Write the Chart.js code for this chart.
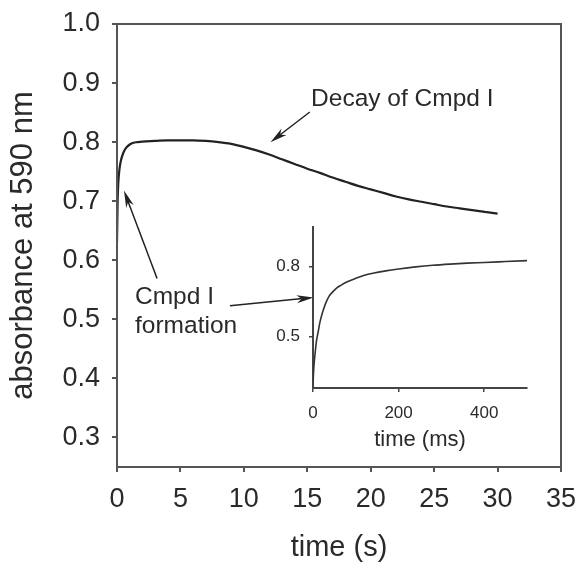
<!DOCTYPE html>
<html>
<head>
<meta charset="utf-8">
<script src="https://cdn.jsdelivr.net/npm/chart.js@4.4.1/dist/chart.umd.min.js"></script>
<style>
  html, body { margin: 0; padding: 0; background: #fff; }
  #wrap { position: relative; width: 576px; height: 570px; }
  #mainChart { position: absolute; left: 0; top: 0; }
  #insetChart { position: absolute; left: 250px; top: 215px; }
</style>
</head>
<body>
<div id="wrap">
  <canvas id="mainChart" width="576" height="570"></canvas>
  <canvas id="insetChart" width="290" height="240"></canvas>
</div>
<script>
// ---- main trace: absorbance at 590 nm vs time (s) ----
const mainTime = [0, 0.05, 0.1, 0.2, 0.3, 0.5, 0.7, 1.0, 1.3, 1.6, 2, 3, 4, 5, 6, 7, 8, 9, 10,
  11, 12, 13, 14, 15, 16, 17, 18, 19, 20, 21, 22, 23, 24, 25, 26, 27, 28, 29, 30];
const mainAbs = [0.63, 0.70, 0.73, 0.755, 0.768, 0.782, 0.79, 0.796, 0.799, 0.800, 0.801, 0.802,
  0.803, 0.803, 0.803, 0.802, 0.800, 0.797, 0.792, 0.786, 0.779, 0.771, 0.763, 0.755, 0.748,
  0.740, 0.733, 0.726, 0.720, 0.714, 0.708, 0.703, 0.699, 0.695, 0.691, 0.688, 0.685, 0.682, 0.679];
const mainXTicks = [0, 5, 10, 15, 20, 25, 30, 35];
const mainYTicks = [0.3, 0.4, 0.5, 0.6, 0.7, 0.8, 0.9, 1.0];

// ---- inset trace: first 500 ms ----
const insetMs = [0, 2, 5, 8, 12, 16, 20, 25, 30, 38, 45, 55, 65, 80, 100, 120, 140, 170, 200,
  240, 280, 320, 360, 400, 450, 500];
const insetAbs = [0.30, 0.37, 0.43, 0.48, 0.52, 0.56, 0.59, 0.62, 0.645, 0.675, 0.69, 0.708,
  0.72, 0.735, 0.75, 0.763, 0.772, 0.782, 0.79, 0.799, 0.806, 0.811, 0.815, 0.818, 0.822, 0.826];
const insetXTicks = [0, 200, 400];
const insetYTicks = [0.5, 0.8];

// annotations, in main-chart data units
const notes = [
  { text: 'Decay of Cmpd I', x: 15.3, y: 0.862 },
  { text: 'Cmpd I', x: 1.42, y: 0.526 },
  { text: 'formation', x: 1.42, y: 0.477 }
];
const arrows = [
  { from: [15.2, 0.851], to: [12.1, 0.80] },
  { from: [3.16, 0.569], to: [0.55, 0.718] },
  { from: [8.9, 0.523], to: [15.5, 0.537] }
];

const FONT = "'Liberation Sans', Arial, Helvetica, sans-serif";
const INK = '#2a2a2a';
const AXIS = '#555';

function toPoints(xs, ys) {
  return xs.map((x, i) => ({ x: x, y: ys[i] }));
}

// keep the plot box where the layout padding puts it (no room for label overflow)
function noOverflow(s) {
  s.paddingLeft = 0; s.paddingRight = 0; s.paddingTop = 0; s.paddingBottom = 0;
}

function drawArrow(ctx, x0, y0, x1, y1) {
  const ang = Math.atan2(y1 - y0, x1 - x0);
  const len = 17, half = 4;
  ctx.beginPath();
  ctx.moveTo(x0, y0);
  ctx.lineTo(x1 - Math.cos(ang) * 6, y1 - Math.sin(ang) * 6);
  ctx.stroke();
  ctx.beginPath();
  ctx.moveTo(x1, y1);
  ctx.lineTo(x1 - Math.cos(ang) * len - Math.sin(ang) * half, y1 - Math.sin(ang) * len + Math.cos(ang) * half);
  ctx.lineTo(x1 - Math.cos(ang) * (len - 5), y1 - Math.sin(ang) * (len - 5));
  ctx.lineTo(x1 - Math.cos(ang) * len + Math.sin(ang) * half, y1 - Math.sin(ang) * len - Math.cos(ang) * half);
  ctx.closePath();
  ctx.fill();
}

// frame + text labels + arrows on the main chart
const mainDecor = {
  id: 'mainDecor',
  afterDraw(chart) {
    const { ctx, chartArea: a, scales } = chart;
    ctx.save();
    ctx.strokeStyle = AXIS;
    ctx.lineWidth = 2;
    ctx.strokeRect(a.left, a.top, a.right - a.left, a.bottom - a.top);

    ctx.fillStyle = INK;
    ctx.font = '24.5px ' + FONT;
    ctx.textAlign = 'left';
    ctx.textBaseline = 'alphabetic';
    notes.forEach(n => {
      ctx.fillText(n.text, scales.x.getPixelForValue(n.x), scales.y.getPixelForValue(n.y));
    });

    ctx.strokeStyle = '#222';
    ctx.fillStyle = '#222';
    ctx.lineWidth = 1.5;
    arrows.forEach(ar => {
      drawArrow(ctx,
        scales.x.getPixelForValue(ar.from[0]), scales.y.getPixelForValue(ar.from[1]),
        scales.x.getPixelForValue(ar.to[0]), scales.y.getPixelForValue(ar.to[1]));
    });
    ctx.restore();
  }
};

const mainChart = new Chart(document.getElementById('mainChart'), {
  type: 'scatter',
  data: {
    datasets: [{
      data: toPoints(mainTime, mainAbs),
      showLine: true,
      borderColor: '#222',
      borderWidth: 2.2,
      pointRadius: 0,
      cubicInterpolationMode: 'monotone'
    }]
  },
  options: {
    responsive: false,
    animation: false,
    devicePixelRatio: 1,
    layout: { padding: { top: 24, right: 15, left: 0, bottom: 0 } },
    plugins: { legend: { display: false }, tooltip: { enabled: false } },
    scales: {
      x: {
        type: 'linear', min: 0, max: 35,
        afterBuildTicks: s => { s.ticks = mainXTicks.map(v => ({ value: v })); },
        afterFit: s => { s.height = 103; noOverflow(s); },
        ticks: { font: { family: FONT, size: 27 }, color: INK, padding: 11, maxRotation: 0, autoSkip: false },
        grid: { drawOnChartArea: false, drawTicks: true, tickLength: 5, color: AXIS, lineWidth: 2 },
        border: { display: true, color: AXIS, width: 2 },
        title: { display: true, text: 'time (s)', font: { family: FONT, size: 29 }, color: INK, padding: { top: 0, bottom: 5 } }
      },
      y: {
        type: 'linear', min: 0.25, max: 1.0,
        afterBuildTicks: s => { s.ticks = mainYTicks.map(v => ({ value: v })); },
        afterFit: s => { s.width = 117; noOverflow(s); },
        ticks: { font: { family: FONT, size: 27 }, color: INK, padding: 12, callback: v => v.toFixed(1) },
        grid: { drawOnChartArea: false, drawTicks: true, tickLength: 5, color: AXIS, lineWidth: 2 },
        border: { display: true, color: AXIS, width: 2 },
        title: { display: true, text: 'absorbance at 590 nm', font: { family: FONT, size: 31 }, color: INK, padding: { top: 5, bottom: 0 } }
      }
    }
  },
  plugins: [mainDecor]
});

const insetChart = new Chart(document.getElementById('insetChart'), {
  type: 'scatter',
  data: {
    datasets: [{
      data: toPoints(insetMs, insetAbs),
      showLine: true,
      borderColor: '#333',
      borderWidth: 1.6,
      pointRadius: 0,
      cubicInterpolationMode: 'monotone'
    }]
  },
  options: {
    responsive: false,
    animation: false,
    devicePixelRatio: 1,
    layout: { padding: { top: 12, right: 13, left: 0, bottom: 0 } },
    plugins: { legend: { display: false }, tooltip: { enabled: false } },
    scales: {
      x: {
        type: 'linear', min: 0, max: 500,
        afterBuildTicks: s => { s.ticks = insetXTicks.map(v => ({ value: v })); },
        afterFit: s => { s.height = 67; noOverflow(s); },
        ticks: { font: { family: FONT, size: 17 }, color: INK, padding: 11, maxRotation: 0, autoSkip: false },
        grid: { drawOnChartArea: false, drawTicks: true, tickLength: 4, color: '#444', lineWidth: 1.5 },
        border: { display: true, color: '#444', width: 2 },
        title: { display: true, text: 'time (ms)', font: { family: FONT, size: 22 }, color: INK, padding: { top: 0, bottom: 2 } }
      },
      y: {
        type: 'linear', min: 0.28, max: 0.97,
        afterBuildTicks: s => { s.ticks = insetYTicks.map(v => ({ value: v })); },
        afterFit: s => { s.width = 63; noOverflow(s); },
        ticks: { font: { family: FONT, size: 17 }, color: INK, padding: 9, callback: v => v.toFixed(1) },
        grid: { drawOnChartArea: false, drawTicks: true, tickLength: 4, color: '#444', lineWidth: 1.5 },
        border: { display: true, color: '#444', width: 2 }
      }
    }
  }
});
</script>
</body>
</html>
